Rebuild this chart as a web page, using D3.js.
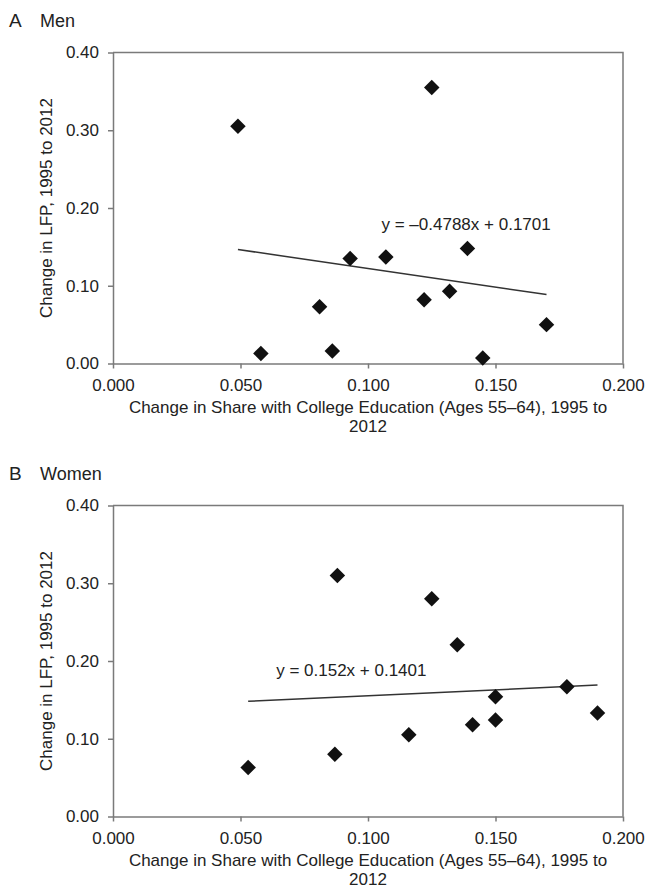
<!DOCTYPE html>
<html>
<head>
<meta charset="utf-8">
<script src="https://cdn.jsdelivr.net/npm/d3@7"></script>
<style>
  body { margin: 0; background: #fff; }
  svg { display: block; }
  text { font-family: "Liberation Sans", Arial, Helvetica, sans-serif; fill: #222; }
</style>
</head>
<body>
<div id="chart"></div>
<script>
// --- data ---
const menX = [0.049, 0.058, 0.081, 0.086, 0.093, 0.107, 0.125, 0.122, 0.132, 0.139, 0.145, 0.170];
const menY = [0.305, 0.013, 0.073, 0.016, 0.135, 0.137, 0.355, 0.082, 0.093, 0.148, 0.007, 0.050];
const womenX = [0.053, 0.087, 0.088, 0.116, 0.125, 0.135, 0.141, 0.150, 0.150, 0.178, 0.190];
const womenY = [0.063, 0.080, 0.310, 0.105, 0.280, 0.221, 0.118, 0.124, 0.154, 0.167, 0.133];
const menFit = { slope: -0.4788, intercept: 0.1701, label: "y = \u20130.4788x + 0.1701" };
const womenFit = { slope: 0.152, intercept: 0.1401, label: "y = 0.152x + 0.1401" };
const xTicks = [0, 0.05, 0.1, 0.15, 0.2];
const yTicks = [0, 0.1, 0.2, 0.3, 0.4];
const panelLetters = ["A", "B"];
const panelNames = ["Men", "Women"];
const xTitle = ["Change in Share with College Education (Ages 55\u201364), 1995 to", "2012"];
const yTitle = "Change in LFP, 1995 to 2012";

const W = 648, H = 889;
const FONT = 17;
const axisColor = "#7a7a7a";

const svg = d3.select("#chart").append("svg").attr("width", W).attr("height", H);

function drawPanel(idx, top, xs, ys, fit, labelPos) {
  const left = 113, right = 623, plotH = 311;
  const x = d3.scaleLinear().domain([0, 0.2]).range([left, right]);
  const y = d3.scaleLinear().domain([0, 0.4]).range([top + plotH, top]);
  const g = svg.append("g");

  // panel heading
  g.append("text").attr("x", 9).attr("y", top - 25.5)
    .style("font-size", "19px").text(panelLetters[idx]);
  g.append("text").attr("x", 40).attr("y", top - 25.5)
    .style("font-size", "18px").text(panelNames[idx]);

  // frame (top and right)
  g.append("path")
    .attr("d", `M${left},${top}H${right}V${top + plotH}`)
    .attr("fill", "none").attr("stroke", axisColor).attr("stroke-width", 1.5);

  const xAxis = d3.axisBottom(x).tickValues(xTicks).tickFormat(d3.format(".3f"))
    .tickSizeInner(5).tickSizeOuter(0).tickPadding(10);
  const yAxis = d3.axisLeft(y).tickValues(yTicks).tickFormat(d3.format(".2f"))
    .tickSizeInner(5).tickSizeOuter(0).tickPadding(9);

  [g.append("g").attr("transform", `translate(0,${top + plotH})`).call(xAxis),
   g.append("g").attr("transform", `translate(${left},0)`).call(yAxis)]
    .forEach(a => {
      a.selectAll("path, line").attr("stroke", axisColor).attr("stroke-width", 1.5);
      a.selectAll("text").style("font-size", FONT + "px")
        .style("font-family", '"Liberation Sans", Arial, sans-serif').attr("fill", "#222");
    });

  // axis titles (two lines)
  g.append("text").attr("x", (left + right) / 2).attr("y", top + plotH + 49)
    .attr("text-anchor", "middle").style("font-size", FONT + "px").text(xTitle[0]);
  g.append("text").attr("x", (left + right) / 2).attr("y", top + plotH + 68.5)
    .attr("text-anchor", "middle").style("font-size", FONT + "px").text(xTitle[1]);
  g.append("text")
    .attr("transform", `translate(52,${top + plotH / 2}) rotate(-90)`)
    .attr("text-anchor", "middle").style("font-size", FONT + "px").text(yTitle);

  // trend line across the data range
  const xr = d3.extent(xs);
  g.append("line")
    .attr("x1", x(xr[0])).attr("y1", y(fit.slope * xr[0] + fit.intercept))
    .attr("x2", x(xr[1])).attr("y2", y(fit.slope * xr[1] + fit.intercept))
    .attr("stroke", "#333").attr("stroke-width", 1.5);

  g.append("text").attr("x", x(labelPos[0])).attr("y", y(labelPos[1]))
    .style("font-size", FONT + "px").text(fit.label);

  // diamond markers
  const diamond = d3.symbol().type(d3.symbolSquare).size(120);
  g.append("g").selectAll("path")
    .data(xs.map((d, i) => ({ x: d, y: ys[i] })))
    .enter()
    .append("path")
    .attr("d", diamond)
    .attr("transform", d => `translate(${x(d.x)},${y(d.y)}) rotate(45)`)
    .attr("fill", "#111");
}

drawPanel(0, 52.5, menX, menY, menFit, [0.1053, 0.172]);
drawPanel(1, 505.5, womenX, womenY, womenFit, [0.064, 0.181]);
</script>
</body>
</html>
